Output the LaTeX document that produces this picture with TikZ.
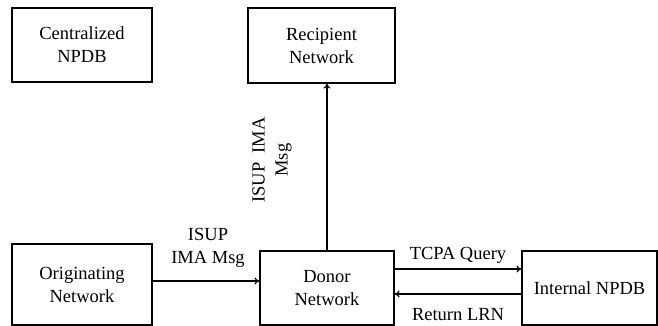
\documentclass[tikz,border=0pt]{standalone}
\usepackage{fontspec}
\setmainfont{Liberation Serif}
\usetikzlibrary{arrows.meta}
\begin{document}
\begin{tikzpicture}[x=1pt,y=-1pt,
  box/.style={draw,line width=1.2pt,align=center,inner sep=0pt,font=\fontsize{18.5}{23}\selectfont},
  arr/.style={line width=1.2pt,-{To[length=5pt,width=7pt]}},
  lbl/.style={align=center,inner sep=0pt,font=\fontsize{18.5}{23}\selectfont}]
\useasboundingbox (0,0) rectangle (658,326);
\node[box,minimum width=140pt,minimum height=74pt] (cent) at (82,45) {Centralized\\NPDB};
\node[box,minimum width=147pt,minimum height=75pt] (recip) at (321.5,45.5) {Recipient\\Network};
\node[box,minimum width=140pt,minimum height=81pt] (orig) at (82,284.5) {Originating\\Network};
\node[box,minimum width=134pt,minimum height=74pt] (donor) at (327,288) {Donor\\Network};
\node[box,minimum width=135pt,minimum height=74pt] (inpdb) at (589.5,288) {Internal NPDB};
\draw[arr] ([yshift=3.5pt]orig.east) -- ([yshift=3.5pt]orig.east -| donor.west);
\draw[arr] (donor.north) -- (donor.north |- recip.south);
\draw[arr] ([yshift=19pt]donor.east) -- ([yshift=19pt]donor.east -| inpdb.west);
\draw[arr] ([yshift=-6pt]inpdb.west) -- ([yshift=-6pt]inpdb.west -| donor.east);
\node[lbl] (l1) at (208,248) {ISUP\\IMA Msg};
\node[lbl,rotate=90] (l2) at (272,160) {ISUP~ IMA\\Msg};
\node[lbl] (l3) at (458,255) {TCPA Query};
\node[lbl] (l4) at (458,315) {Return LRN};
\end{tikzpicture}
\end{document}
